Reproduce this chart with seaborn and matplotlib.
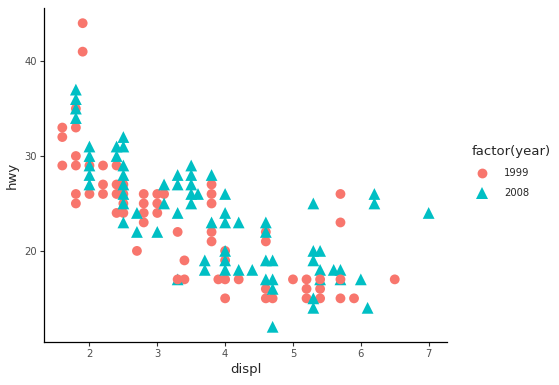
import matplotlib
matplotlib.use("Agg")
import matplotlib.pyplot as plt
import seaborn as sns
import pandas as pd

# points (overlapping duplicates dropped)
displ_1999 = [1.6, 1.6, 1.6, 1.8, 1.8, 1.8, 1.8, 1.8, 1.8, 1.9, 1.9, 2.0, 2.0,
              2.2, 2.2, 2.2, 2.4, 2.4, 2.4, 2.4, 2.5, 2.5, 2.5, 2.5, 2.7,
              2.8, 2.8, 2.8, 2.8, 3.0, 3.0, 3.0, 3.1, 3.3, 3.4, 3.4,
              3.8, 3.8, 3.8, 3.8, 3.8, 3.9, 4.0, 4.0, 4.0, 4.0, 4.2,
              4.6, 4.6, 4.6, 4.6, 4.7, 5.0, 5.2, 5.2, 5.2, 5.4, 5.4,
              5.7, 5.7, 5.7, 5.9, 6.5]
hwy_1999 = [33, 32, 29, 33, 35, 30, 29, 26, 25, 44, 41, 29, 26,
            29, 27, 26, 29, 27, 26, 24, 27, 26, 25, 24, 20,
            26, 25, 24, 23, 26, 25, 24, 26, 22, 19, 17,
            27, 26, 25, 22, 21, 17, 20, 19, 17, 15, 17,
            22, 21, 16, 15, 15, 17, 17, 16, 15, 16, 15,
            26, 23, 15, 15, 17]

displ_2008 = [1.8, 1.8, 1.8, 1.8, 2.0, 2.0, 2.0, 2.0, 2.0, 2.4, 2.4,
              2.5, 2.5, 2.5, 2.5, 2.5, 2.5, 2.5, 2.5, 2.7, 2.7, 3.0,
              3.1, 3.1, 3.3, 3.3, 3.3, 3.3, 3.5, 3.5, 3.5, 3.5, 3.5, 3.6,
              3.7, 3.7, 3.8, 3.8, 4.0, 4.0, 4.0, 4.0, 4.0, 4.0, 4.2, 4.2,
              4.4, 4.6, 4.6, 4.6, 4.6, 4.7, 4.7, 4.7, 4.7,
              5.3, 5.3, 5.3, 5.3, 5.3, 5.4, 5.4, 5.4, 5.6, 5.7, 5.7,
              6.0, 6.1, 6.2, 6.2, 7.0]
hwy_2008 = [37, 36, 35, 34, 31, 30, 29, 28, 27, 31, 30,
            32, 31, 29, 28, 27, 26, 25, 23, 24, 22, 22,
            27, 25, 28, 27, 24, 17, 29, 28, 27, 26, 25, 26,
            19, 18, 28, 23, 26, 24, 23, 20, 19, 18, 23, 18,
            18, 23, 22, 19, 17, 19, 17, 16, 12,
            25, 20, 19, 15, 14, 20, 18, 17, 18, 18, 17,
            17, 14, 26, 25, 24]

# 1999 points that sit on top of a 2008 triangle
displ_1999_top = [3.3, 5.4, 5.7]
hwy_1999_top = [17, 17, 17]

df = pd.concat([
    pd.DataFrame({"displ": displ_1999, "hwy": hwy_1999, "year": "1999"}),
    pd.DataFrame({"displ": displ_2008, "hwy": hwy_2008, "year": "2008"}),
    pd.DataFrame({"displ": displ_1999_top, "hwy": hwy_1999_top, "year": "1999"}),
], ignore_index=True)

sns.set_style("ticks")
plt.rcParams['font.family'] = ['DejaVu Sans']

fig = plt.figure(figsize=(5.59, 3.85), dpi=100)
ax = fig.add_axes([0.0787, 0.1117, 0.7209, 0.8675])

sns.scatterplot(data=df, x="displ", y="hwy", hue="year", style="year", size="year",
                hue_order=["1999", "2008"], style_order=["1999", "2008"],
                size_order=["1999", "2008"],
                palette={"1999": "#F8766D", "2008": "#00BFC4"},
                markers={"1999": "o", "2008": "^"},
                sizes={"1999": 50, "2008": 72},
                linewidth=0, ax=ax)

ax.set_xlim(1.33, 7.27)
ax.set_ylim(10.4, 45.6)
ax.set_xticks([2, 3, 4, 5, 6, 7])
ax.set_yticks([20, 30, 40])
ax.tick_params(colors="#333333", labelcolor="#4D4D4D", labelsize=7.2,
               length=3, width=0.8, pad=2)
for side in ["left", "bottom"]:
    ax.spines[side].set_linewidth(0.9)
    ax.spines[side].set_color("black")
sns.despine(ax=ax)
ax.set_xlabel("displ", fontsize=9.5, labelpad=3)
ax.set_ylabel("hwy", fontsize=9.5, labelpad=4)

sns.move_legend(ax, loc="center left", bbox_to_anchor=(1.04, 0.51),
                title="factor(year)", frameon=False, fontsize=7.2,
                title_fontsize=9.5, markerscale=1.0, handletextpad=1.2,
                labelspacing=1.0)
ax.get_legend()._legend_box.align = "left"

fig.savefig("out.png", dpi=100)
